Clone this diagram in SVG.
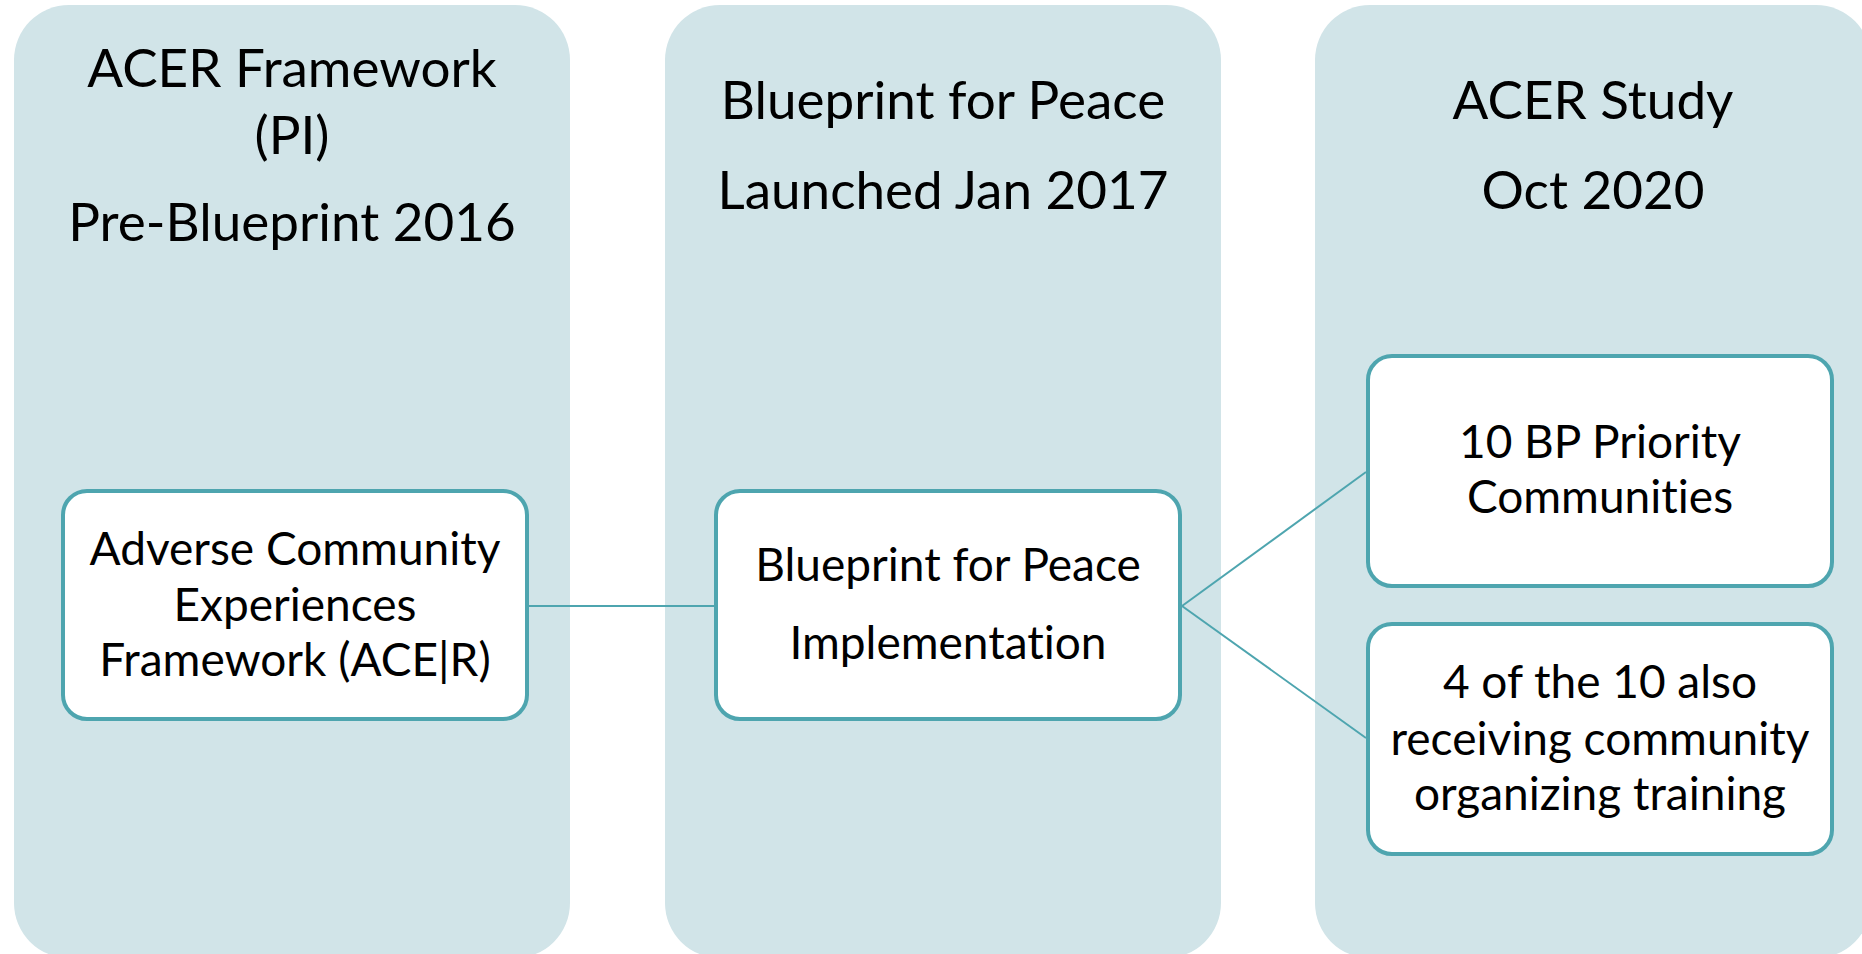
<svg xmlns="http://www.w3.org/2000/svg" width="1862" height="954" viewBox="0 0 1862 954">
  <style>
    .lane { fill: #D1E4E8; }
    .box { fill: #FFFFFF; stroke: #4EA5AF; stroke-width: 4; }
    .link { stroke: #4EA5AF; stroke-width: 2; fill: none; }
    text { font-family: Lato, "Open Sans", "Liberation Sans", sans-serif; fill: #000000; text-anchor: middle; font-variant-ligatures: none; }
    .title { font-size: 53px; }
    .label { font-size: 46px; }
  </style>
  <rect width="1862" height="954" fill="#FFFFFF"/>

  <!-- Timeline lanes -->
  <g id="lane-acer-framework">
    <rect class="lane" x="14" y="5" width="556" height="953" rx="55" ry="55"/>
    <text class="title" x="292" y="87">ACER Framework</text>
    <text class="title" x="292" y="154">(PI)</text>
    <text class="title" x="292" y="241">Pre-Blueprint 2016</text>
  </g>
  <g id="lane-blueprint">
    <rect class="lane" x="665" y="5" width="556" height="953" rx="55" ry="55"/>
    <text class="title" x="943" y="119">Blueprint for Peace</text>
    <text class="title" x="943" y="209">Launched Jan 2017</text>
  </g>
  <g id="lane-acer-study">
    <rect class="lane" x="1315" y="5" width="556" height="953" rx="55" ry="55"/>
    <text class="title" x="1593" y="119">ACER Study</text>
    <text class="title" x="1593" y="209">Oct 2020</text>
  </g>

  <!-- Connectors -->
  <g id="connectors">
    <line class="link" x1="529" y1="606" x2="714" y2="606"/>
    <line class="link" x1="1182" y1="606" x2="1366" y2="472"/>
    <line class="link" x1="1182" y1="606" x2="1366" y2="738"/>
  </g>

  <!-- Nodes -->
  <g id="node-ace-framework">
    <rect class="box" x="63" y="491" width="464" height="228" rx="24" ry="24"/>
    <text class="label" x="295" y="565">Adverse Community</text>
    <text class="label" x="295" y="621">Experiences</text>
    <text class="label" x="295" y="676">Framework (ACE|R)</text>
  </g>
  <g id="node-implementation">
    <rect class="box" x="716" y="491" width="464" height="228" rx="24" ry="24"/>
    <text class="label" x="948" y="581">Blueprint for Peace</text>
    <text class="label" x="948" y="659">Implementation</text>
  </g>
  <g id="node-priority">
    <rect class="box" x="1368" y="356" width="464" height="230" rx="24" ry="24"/>
    <text class="label" x="1600" y="458">10 BP Priority</text>
    <text class="label" x="1600" y="513">Communities</text>
  </g>
  <g id="node-organizing">
    <rect class="box" x="1368" y="624" width="464" height="230" rx="24" ry="24"/>
    <text class="label" x="1600" y="698">4 of the 10 also</text>
    <text class="label" x="1600" y="755">receiving community</text>
    <text class="label" x="1600" y="810">organizing training</text>
  </g>
</svg>
